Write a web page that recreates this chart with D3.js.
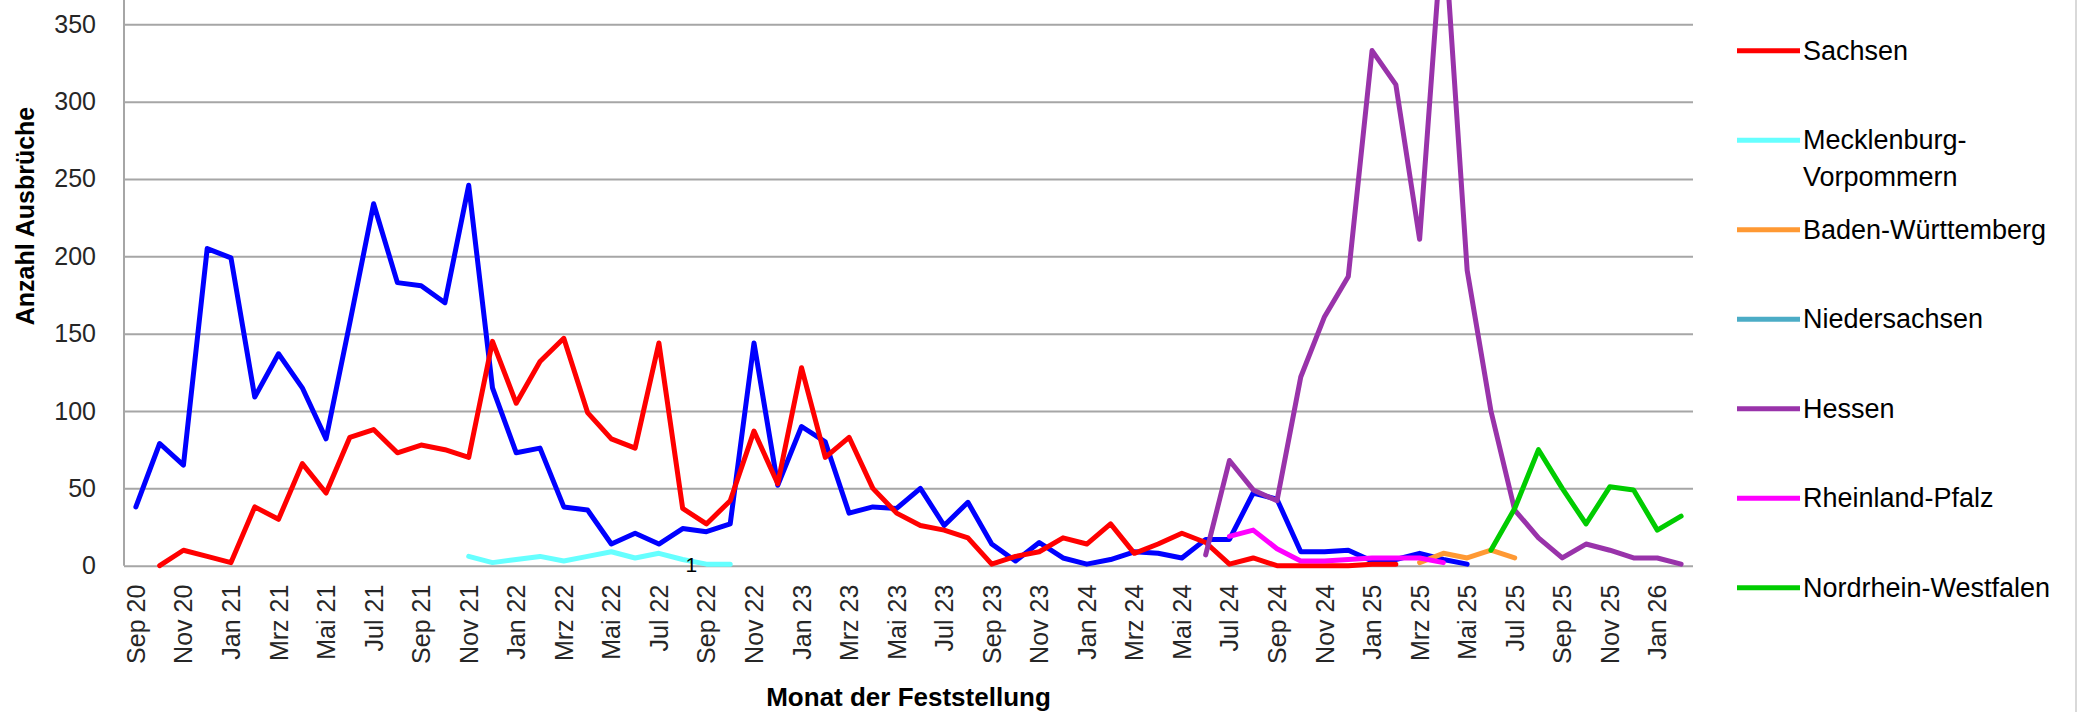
<!DOCTYPE html>
<html>
<head>
<meta charset="utf-8">
<script src="https://cdn.jsdelivr.net/npm/d3@7"></script>
<style>
  html, body { margin: 0; padding: 0; background: #ffffff; }
  svg { display: block; }
  text { font-family: "Liberation Sans", Arial, sans-serif; }
</style>
</head>
<body>
<svg id="chart" width="2083" height="712"></svg>
<script>
// ---------------- DATA ----------------
const months = [
  "Sep 20","Okt 20","Nov 20","Dez 20",
  "Jan 21","Feb 21","Mrz 21","Apr 21","Mai 21","Jun 21","Jul 21","Aug 21","Sep 21","Okt 21","Nov 21","Dez 21",
  "Jan 22","Feb 22","Mrz 22","Apr 22","Mai 22","Jun 22","Jul 22","Aug 22","Sep 22","Okt 22","Nov 22","Dez 22",
  "Jan 23","Feb 23","Mrz 23","Apr 23","Mai 23","Jun 23","Jul 23","Aug 23","Sep 23","Okt 23","Nov 23","Dez 23",
  "Jan 24","Feb 24","Mrz 24","Apr 24","Mai 24","Jun 24","Jul 24","Aug 24","Sep 24","Okt 24","Nov 24","Dez 24",
  "Jan 25","Feb 25","Mrz 25","Apr 25","Mai 25","Jun 25","Jul 25","Aug 25","Sep 25","Okt 25","Nov 25","Dez 25",
  "Jan 26","Feb 26"
];
// every second month is labelled on the axis
const tickLabels = months.filter((m, i) => i % 2 === 0);

const yTicks = [0, 50, 100, 150, 200, 250, 300, 350];

// null-padding helper: values start at month index `start`
function pad(start, vals) {
  const a = new Array(months.length).fill(null);
  vals.forEach((v, k) => { a[start + k] = v; });
  return a;
}

const brandenburg = pad(0, [38,79,65,205,199,109,137,115,82,157,
                            234,183,181,170,246,115,73,76,38,36,
                            14,21,14,24,22,27,144,52,90,80,
                            34,38,37,50,26,41,14,3,15,5,
                            1,4,9,8,5,17,17,47,43,9,
                            9,10,3,4,8,4,1]);
const sachsen = pad(1, [0,10,6,2,38,30,66,47,83,
                        88,73,78,75,70,145,105,132,147,99,
                        82,76,144,37,27,42,87,53,128,70,
                        83,50,34,26,23,18,1,6,9,18,
                        14,27,8,14,21,15,1,5,0,0,
                        0,0,1,1]);
const mecklenburgVorpommern = pad(14, [6,2,4,6,3,6,9,5,8,4,1,1]);
const badenWuerttemberg = pad(54, [2,8,5,10,5]);
const niedersachsen = pad(0, []);
const hessen = pad(45, [7,68,49,42,122,161,187,333,311,211,420,191,100,36,18,5,14,10,5,5,1]);
const rheinlandPfalz = pad(46, [19,23,11,3,3,4,5,5,5,2]);
const nordrheinWestfalen = pad(57, [10,37,75,50,27,51,49,23,32]);

const seriesNames = ["Brandenburg","Sachsen","Mecklenburg-Vorpommern","Baden-Württemberg",
                     "Niedersachsen","Hessen","Rheinland-Pfalz","Nordrhein-Westfalen"];
const seriesValues = [brandenburg, sachsen, mecklenburgVorpommern, badenWuerttemberg,
                      niedersachsen, hessen, rheinlandPfalz, nordrheinWestfalen];
const seriesColors = ["#0000FF","#FF0000","#66FFFF","#FF9933",
                      "#4BACC6","#9933AA","#FF00FF","#00CC00"];
const legendLines = [["Brandenburg"],["Sachsen"],["Mecklenburg-","Vorpommern"],["Baden-Württemberg"],
                     ["Niedersachsen"],["Hessen"],["Rheinland-Pfalz"],["Nordrhein-Westfalen"]];

// data label shown on the chart
const dataLabels = [{ series: "Mecklenburg-Vorpommern", month: "Sep 22", text: "1" }];

const yTitle = "Anzahl Ausbrüche";
const xTitle = "Monat der Feststellung";

// ---------------- LAYOUT ----------------
const W = 2083, H = 712;
const plot = { left: 124, right: 1693, zeroY: 565.7, y350: 24.3 };

const svg = d3.select("#chart");
svg.append("rect").attr("width", W).attr("height", H).attr("fill", "#ffffff");

const x = d3.scaleBand().domain(months).range([plot.left, plot.right]).padding(0);
const cx = m => x(m) + x.bandwidth() / 2;
const pxPerUnit = (plot.zeroY - plot.y350) / 350;
const y = d3.scaleLinear().domain([0, 400]).range([plot.zeroY, plot.zeroY - 400 * pxPerUnit]);

// gridlines
const grid = svg.append("g").attr("transform", `translate(${plot.left},0)`)
  .call(d3.axisLeft(y).tickValues(yTicks).tickSize(-(plot.right - plot.left)).tickFormat(""));
grid.select(".domain").remove();
grid.selectAll("line").attr("stroke", "#a6a6a6").attr("stroke-width", 2);

// y axis line
svg.append("line")
  .attr("x1", plot.left).attr("x2", plot.left)
  .attr("y1", y(400)).attr("y2", y(0))
  .attr("stroke", "#a6a6a6").attr("stroke-width", 2);

// y tick labels
const yAxis = svg.append("g").attr("transform", `translate(${plot.left},0)`)
  .call(d3.axisLeft(y).tickValues(yTicks).tickSize(0).tickPadding(28));
yAxis.select(".domain").remove();
yAxis.selectAll("text")
  .attr("font-size", 25).attr("fill", "#262626")
  .style("font-family", "'Liberation Sans', Arial, sans-serif");

// x tick labels
const xAxis = svg.append("g").attr("transform", `translate(0,${y(0)})`)
  .call(d3.axisBottom(x).tickValues(tickLabels).tickSize(0));
xAxis.select(".domain").remove();
xAxis.selectAll("text")
  .attr("transform", "rotate(-90)")
  .attr("x", -19).attr("y", 0).attr("dy", "0.36em")
  .attr("text-anchor", "end")
  .attr("font-size", 25).attr("fill", "#262626")
  .style("font-family", "'Liberation Sans', Arial, sans-serif");

// axis titles
svg.append("text")
  .attr("transform", "translate(25,216) rotate(-90)")
  .attr("text-anchor", "middle").attr("dominant-baseline", "central")
  .attr("font-size", 25).attr("font-weight", "bold").attr("fill", "#000")
  .text(yTitle);
svg.append("text")
  .attr("x", (plot.left + plot.right) / 2).attr("y", 697)
  .attr("text-anchor", "middle").attr("dominant-baseline", "central")
  .attr("font-size", 26).attr("font-weight", "bold").attr("fill", "#000")
  .text(xTitle);

// lines
const line = d3.line()
  .defined(d => d.v !== null)
  .x(d => cx(d.m))
  .y(d => y(d.v));

seriesNames.forEach((name, s) => {
  const pts = seriesValues[s].map((v, i) => ({ m: months[i], v }));
  svg.append("path")
    .datum(pts)
    .attr("d", line)
    .attr("fill", "none")
    .attr("stroke", seriesColors[s])
    .attr("stroke-width", 5)
    .attr("stroke-linejoin", "round")
    .attr("stroke-linecap", "round");
});

// data labels
dataLabels.forEach(l => {
  const s = seriesNames.indexOf(l.series);
  const v = seriesValues[s][months.indexOf(l.month)];
  svg.append("text")
    .attr("x", cx(l.month) - 15).attr("y", y(v))
    .attr("text-anchor", "middle").attr("dominant-baseline", "central")
    .attr("font-size", 21).attr("fill", "#000")
    .text(l.text);
});

// legend
const legendTop = 50.7 - 89.5, legendStep = 89.5, lineH = 36.5;
seriesNames.forEach((name, s) => {
  const ly = legendTop + s * legendStep;
  if (ly < 0) return;
  const g = svg.append("g");
  g.append("line")
    .attr("x1", 1737).attr("x2", 1800).attr("y1", ly).attr("y2", ly)
    .attr("stroke", seriesColors[s]).attr("stroke-width", 5);
  legendLines[s].forEach((t, k) => {
    g.append("text")
      .attr("x", 1803).attr("y", ly + k * lineH)
      .attr("dominant-baseline", "central")
      .attr("font-size", 27).attr("fill", "#000")
      .text(t);
  });
});

// chart-area right border
svg.append("line")
  .attr("x1", 2076).attr("x2", 2076).attr("y1", 0).attr("y2", H)
  .attr("stroke", "#d9d9d9").attr("stroke-width", 2);
</script>
</body>
</html>
